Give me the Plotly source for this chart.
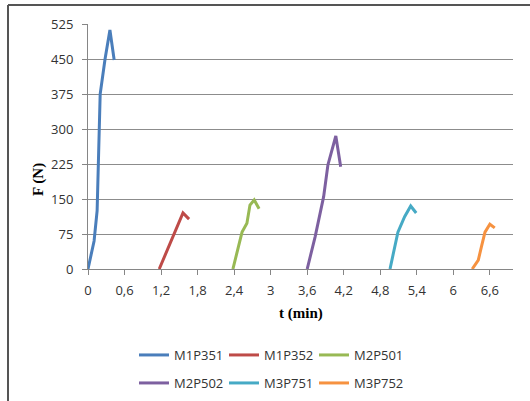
import plotly.graph_objects as go

names = ["M1P351", "M1P352", "M2P501", "M2P502", "M3P751", "M3P752"]
colors = ["#4A7EBB", "#BE4B48", "#98B954", "#7D60A0", "#46AAC5", "#F69240"]

t_m1p351 = [0.0, 0.10, 0.15, 0.20, 0.28, 0.36, 0.43]
f_m1p351 = [0, 60, 125, 375, 450, 512, 448]

t_m1p352 = [1.17, 1.28, 1.40, 1.56, 1.66]
f_m1p352 = [0, 34, 69, 120, 107]

t_m2p501 = [2.38, 2.53, 2.61, 2.66, 2.73, 2.81]
f_m2p501 = [0, 79, 98, 137, 148, 129]

t_m2p502 = [3.60, 3.73, 3.87, 3.94, 4.07, 4.15]
f_m2p502 = [0, 69, 155, 223, 285, 219]

t_m3p751 = [4.96, 5.09, 5.20, 5.30, 5.39]
f_m3p751 = [0, 79, 112, 135, 120]

t_m3p752 = [6.31, 6.41, 6.46, 6.52, 6.60, 6.68]
f_m3p752 = [0, 19, 47, 79, 96, 88]

x_tickvals = [0, 0.6, 1.2, 1.8, 2.4, 3.0, 3.6, 4.2, 4.8, 5.4, 6.0, 6.6]
x_ticktext = ["0", "0,6", "1,2", "1,8", "2,4", "3", "3,6", "4,2", "4,8", "5,4", "6", "6,6"]
y_tickvals = [0, 75, 150, 225, 300, 375, 450, 525]

series_t = [t_m1p351, t_m1p352, t_m2p501, t_m2p502, t_m3p751, t_m3p752]
series_f = [f_m1p351, f_m1p352, f_m2p501, f_m2p502, f_m3p751, f_m3p752]

fig = go.Figure()
for i, (n, c, t, f) in enumerate(zip(names, colors, series_t, series_f)):
    fig.add_trace(go.Scatter(
        x=t, y=f, name=n, mode="lines",
        line=dict(color=c, width=3),
        legend="legend" if i < 3 else "legend2",
    ))

L, R, T, B = 88, 513, 24, 269
W, H = 530, 401
pw, ph = R - L, B - T

def px_x(p):
    return (p - L) / pw

def px_y(p):
    return (B - p) / ph

tick_font = dict(family="Open Sans", size=13, color="#333333")
legend_common = dict(
    orientation="h", font=dict(family="Open Sans", size=13, color="#333333"),
    bgcolor="rgba(0,0,0,0)", borderwidth=0, xanchor="left", yanchor="middle",
    entrywidth=45, entrywidthmode="pixels", tracegroupgap=0, itemwidth=30,
)

fig.update_layout(
    width=W, height=H,
    margin=dict(l=L, r=W - R, t=T, b=H - B, autoexpand=False),
    paper_bgcolor="white", plot_bgcolor="white",
    showlegend=True,
    xaxis=dict(
        range=[0, 6.98], tickvals=x_tickvals, ticktext=x_ticktext,
        showgrid=False, zeroline=False, showline=True, linecolor="#868686", linewidth=1,
        ticks="outside", ticklen=5, tickcolor="#868686", tickfont=tick_font,
        ticklabelstandoff=4, automargin=False,
    ),
    yaxis=dict(
        range=[0, 525], tickvals=y_tickvals,
        showgrid=True, gridcolor="#8C8C8C", gridwidth=1, zeroline=False,
        showline=True, linecolor="#868686", linewidth=1,
        ticks="outside", ticklen=5, tickcolor="#868686", tickfont=tick_font,
        ticklabelstandoff=6, automargin=False,
    ),
    legend=dict(x=px_x(134), y=px_y(355), **legend_common),
    legend2=dict(x=px_x(134), y=px_y(383), **legend_common),
    annotations=[
        dict(text="<b>t (min)</b>", xref="paper", yref="paper", x=px_x(301), y=px_y(313),
             xanchor="center", yanchor="middle", showarrow=False,
             font=dict(family="Liberation Serif", size=15, color="#000000")),
        dict(text="<b>F (N)</b>", xref="paper", yref="paper", x=px_x(38), y=px_y(180),
             xanchor="center", yanchor="middle", showarrow=False, textangle=-90,
             font=dict(family="Liberation Serif", size=15, color="#000000")),
    ],
    shapes=[
        dict(type="line", xref="paper", yref="paper", x0=px_x(8), x1=px_x(530),
             y0=px_y(5), y1=px_y(5), line=dict(color="#555555", width=2)),
        dict(type="line", xref="paper", yref="paper", x0=px_x(8), x1=px_x(8),
             y0=px_y(5), y1=px_y(401), line=dict(color="#555555", width=2)),
    ],
)

fig.write_html("out.html")
